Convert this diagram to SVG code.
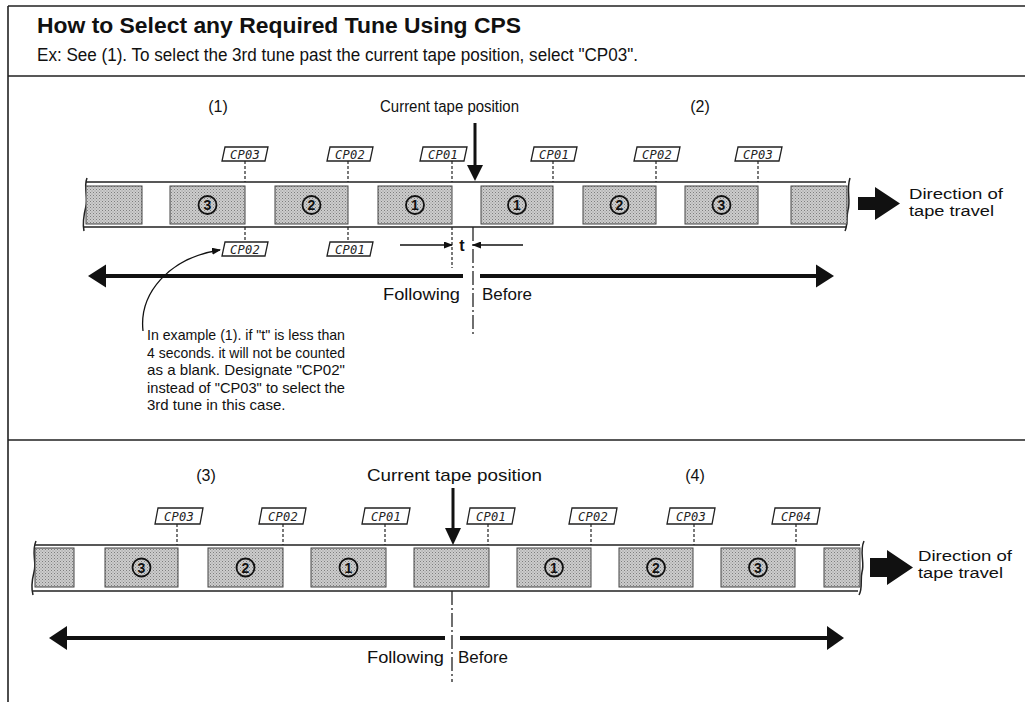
<svg xmlns="http://www.w3.org/2000/svg" width="1025" height="702" viewBox="0 0 1025 702">
<defs>
<style>
.t{font-family:"Liberation Sans",Arial,Helvetica,sans-serif;fill:#111}
.lcd{font-family:"DejaVu Sans Mono","Liberation Mono",monospace;font-style:italic;font-size:12px;fill:#222;letter-spacing:0.3px}
.box{fill:#fff;stroke:#222;stroke-width:1.3}
.dash{stroke:#222;stroke-width:1.2;stroke-dasharray:3 2;fill:none}
.blk{fill:url(#dots);stroke:#444;stroke-width:1}
.tape{fill:none;stroke:#222;stroke-width:1.5}
.circ{fill:url(#dots);stroke:#111;stroke-width:1.8}
.num{font-family:"Liberation Sans",Arial,sans-serif;font-weight:bold;font-size:14px;fill:#111;text-anchor:middle}
.frame{stroke:#222;stroke-width:1.6;fill:none}
.dd{stroke:#222;stroke-width:1.3;stroke-dasharray:14 3 2 3;fill:none}
</style>
<pattern id="dots" width="3" height="3" patternUnits="userSpaceOnUse">
<rect width="3" height="3" fill="#cdcdcd"/>
<rect width="1" height="1" fill="#7e7e7e"/>
<rect x="1.5" y="1.5" width="1" height="1" fill="#949494"/>
</pattern>
<marker id="ah" markerWidth="9" markerHeight="7" refX="8" refY="3.5" orient="auto" markerUnits="userSpaceOnUse">
<path d="M0,0 L9,3.5 L0,7 z" fill="#111"/>
</marker>
</defs>

<g id="frame">
<path class="frame" d="M8 6 H1025 M8 6 V702 M8 76 H1025 M8 440 H1025"/>
</g>

<g id="header">
<text class="t" x="37" y="33" font-size="22" font-weight="bold" textLength="484" lengthAdjust="spacingAndGlyphs">How to Select any Required Tune Using CPS</text>
<text class="t" x="37" y="61" font-size="17.5" textLength="601" lengthAdjust="spacingAndGlyphs">Ex: See (1). To select the 3rd tune past the current tape position, select "CP03".</text>
</g>

<!-- Panel 1 -->
<g id="panel1-labels">
<text class="t" x="218" y="112" font-size="16" text-anchor="middle">(1)</text>
<text class="t" x="380" y="112" font-size="16" textLength="139" lengthAdjust="spacingAndGlyphs">Current tape position</text>
<text class="t" x="700" y="112" font-size="16" text-anchor="middle">(2)</text>
</g>

<g id="tape1">
<path class="tape" d="M86 182 H846 M84 227 H846"/>
<path class="tape" d="M87 178 C83 188 89 198 86 206 C84 214 82 222 84 231"/>
<path class="tape" d="M850 178 C846 190 851 200 848 210 C846 218 848 225 845 231"/>
<rect class="blk" x="86" y="186" width="56" height="38"/>
<rect class="blk" x="170" y="186" width="75" height="38"/>
<rect class="blk" x="275" y="186" width="73" height="38"/>
<rect class="blk" x="378" y="186" width="74" height="38"/>
<rect class="blk" x="481" y="186" width="72" height="38"/>
<rect class="blk" x="583" y="186" width="73" height="38"/>
<rect class="blk" x="685" y="186" width="73" height="38"/>
<rect class="blk" x="791" y="186" width="56" height="38"/>
</g>

<g id="tunes1">
<g><circle class="circ" cx="207.5" cy="205" r="9"/><text class="num" x="207.5" y="210">3</text></g>
<g><circle class="circ" cx="311.5" cy="205" r="9"/><text class="num" x="311.5" y="210">2</text></g>
<g><circle class="circ" cx="415" cy="205" r="9"/><text class="num" x="415" y="210">1</text></g>
<g><circle class="circ" cx="517" cy="205" r="9"/><text class="num" x="517" y="210">1</text></g>
<g><circle class="circ" cx="619.5" cy="205" r="9"/><text class="num" x="619.5" y="210">2</text></g>
<g><circle class="circ" cx="721.5" cy="205" r="9"/><text class="num" x="721.5" y="210">3</text></g>
</g>

<g id="cp1-top">
<g><polygon class="box" points="225,147 268,147 265,161 222,161"/><text class="lcd" x="245" y="158.5" text-anchor="middle">CP03</text></g>
<g><polygon class="box" points="330,147 373,147 370,161 327,161"/><text class="lcd" x="350" y="158.5" text-anchor="middle">CP02</text></g>
<g><polygon class="box" points="423,147 467,147 464,161 420,161"/><text class="lcd" x="443" y="158.5" text-anchor="middle">CP01</text></g>
<g><polygon class="box" points="534,147 577,147 574,161 531,161"/><text class="lcd" x="554" y="158.5" text-anchor="middle">CP01</text></g>
<g><polygon class="box" points="637,147 680,147 677,161 634,161"/><text class="lcd" x="657" y="158.5" text-anchor="middle">CP02</text></g>
<g><polygon class="box" points="738,147 782,147 779,161 735,161"/><text class="lcd" x="758" y="158.5" text-anchor="middle">CP03</text></g>
</g>
<g id="cp1-bottom">
<g><polygon class="box" points="225,242 268,242 265,256 222,256"/><text class="lcd" x="245" y="253.5" text-anchor="middle">CP02</text></g>
<g><polygon class="box" points="330,242 373,242 370,256 327,256"/><text class="lcd" x="350" y="253.5" text-anchor="middle">CP01</text></g>
</g>

<g id="connectors1">
<path class="dash" d="M245 161 V182 M348 161 V182 M452 161 V182 M553 161 V182 M656 161 V182 M758 161 V182"/>
<path class="dash" d="M245 227 V242 M348 227 V242 M452 227 V268"/>
<line x1="475" y1="123" x2="475" y2="167" stroke="#111" stroke-width="3"/>
<polygon points="467,165 483,165 475,181" fill="#111"/>
<line x1="400" y1="245" x2="452" y2="245" stroke="#111" stroke-width="1.5" marker-end="url(#ah)"/>
<line x1="523" y1="245" x2="473" y2="245" stroke="#111" stroke-width="1.5" marker-end="url(#ah)"/>
<path class="dd" d="M473 227 V334"/>
<line x1="103" y1="276" x2="463" y2="276" stroke="#111" stroke-width="4"/>
<polygon points="88,276 106,264.5 106,287.5" fill="#111"/>
<line x1="480" y1="276" x2="819" y2="276" stroke="#111" stroke-width="4"/>
<polygon points="834,276 816,264.5 816,287.5" fill="#111"/>
<path d="M143 331 C139 294 168 258 220 250" fill="none" stroke="#111" stroke-width="1.3" marker-end="url(#ah)"/>
<polygon points="858,197 875,197 875,187 900,203.5 875,220 875,210 858,210" fill="#111"/>
</g>

<g id="panel1-text">
<text class="t" x="462" y="251" font-size="16" font-weight="bold" text-anchor="middle">t</text>
<text class="t" x="460" y="300" font-size="16" text-anchor="end" textLength="77" lengthAdjust="spacingAndGlyphs">Following</text>
<text class="t" x="482" y="300" font-size="16" textLength="50" lengthAdjust="spacingAndGlyphs">Before</text>
<text class="t" x="909" y="199" font-size="15.5" textLength="94" lengthAdjust="spacingAndGlyphs">Direction of</text>
<text class="t" x="909" y="216" font-size="15.5" textLength="85" lengthAdjust="spacingAndGlyphs">tape travel</text>
<g id="callout" font-size="15">
<text class="t" x="147" y="340" textLength="198" lengthAdjust="spacingAndGlyphs">In example (1). if "t" is less than</text>
<text class="t" x="147" y="357.5" textLength="198" lengthAdjust="spacingAndGlyphs">4 seconds. it will not be counted</text>
<text class="t" x="147" y="375" textLength="198" lengthAdjust="spacingAndGlyphs">as a blank. Designate "CP02"</text>
<text class="t" x="147" y="392.5" textLength="198" lengthAdjust="spacingAndGlyphs">instead of "CP03" to select the</text>
<text class="t" x="147" y="410">3rd tune in this case.</text>
</g>
</g>

<!-- Panel 2 -->
<g id="panel2-labels">
<text class="t" x="206" y="481" font-size="16" text-anchor="middle">(3)</text>
<text class="t" x="367" y="481" font-size="17" textLength="175" lengthAdjust="spacingAndGlyphs">Current tape position</text>
<text class="t" x="695" y="481" font-size="16" text-anchor="middle">(4)</text>
</g>

<g id="tape2">
<path class="tape" d="M35 545 H860 M33 591 H858"/>
<path class="tape" d="M36 541 C31 552 37 562 34 572 C32 580 31 588 33 595"/>
<path class="tape" d="M864 541 C859 552 865 562 862 572 C860 580 863 588 859 595"/>
<rect class="blk" x="35" y="548" width="39" height="39"/>
<rect class="blk" x="105" y="548" width="73" height="39"/>
<rect class="blk" x="208" y="548" width="75" height="39"/>
<rect class="blk" x="311" y="548" width="75" height="39"/>
<rect class="blk" x="414" y="548" width="75" height="39"/>
<rect class="blk" x="517" y="548" width="74" height="39"/>
<rect class="blk" x="619" y="548" width="74" height="39"/>
<rect class="blk" x="721" y="548" width="74" height="39"/>
<rect class="blk" x="824" y="548" width="36" height="39"/>
</g>

<g id="tunes2">
<g><circle class="circ" cx="141.5" cy="567.5" r="9"/><text class="num" x="141.5" y="572.5">3</text></g>
<g><circle class="circ" cx="245.5" cy="567.5" r="9"/><text class="num" x="245.5" y="572.5">2</text></g>
<g><circle class="circ" cx="348.5" cy="567.5" r="9"/><text class="num" x="348.5" y="572.5">1</text></g>
<g><circle class="circ" cx="554" cy="567.5" r="9"/><text class="num" x="554" y="572.5">1</text></g>
<g><circle class="circ" cx="656" cy="567.5" r="9"/><text class="num" x="656" y="572.5">2</text></g>
<g><circle class="circ" cx="758" cy="567.5" r="9"/><text class="num" x="758" y="572.5">3</text></g>
</g>

<g id="cp2">
<g><polygon class="box" points="158,508 203,508 200,524 155,524"/><text class="lcd" x="179" y="520.5" text-anchor="middle">CP03</text></g>
<g><polygon class="box" points="262,508 306,508 303,524 259,524"/><text class="lcd" x="283" y="520.5" text-anchor="middle">CP02</text></g>
<g><polygon class="box" points="365,508 410,508 407,524 362,524"/><text class="lcd" x="386" y="520.5" text-anchor="middle">CP01</text></g>
<g><polygon class="box" points="470,508 515,508 512,524 467,524"/><text class="lcd" x="491" y="520.5" text-anchor="middle">CP01</text></g>
<g><polygon class="box" points="572,508 617,508 614,524 569,524"/><text class="lcd" x="593" y="520.5" text-anchor="middle">CP02</text></g>
<g><polygon class="box" points="670,508 715,508 712,524 667,524"/><text class="lcd" x="691" y="520.5" text-anchor="middle">CP03</text></g>
<g><polygon class="box" points="775,508 820,508 817,524 772,524"/><text class="lcd" x="796" y="520.5" text-anchor="middle">CP04</text></g>
</g>

<g id="connectors2">
<path class="dash" d="M177 524 V545 M283 524 V545 M385 524 V545 M488 524 V545 M591 524 V545 M694 524 V545 M796 524 V545"/>
<line x1="453" y1="488" x2="453" y2="530" stroke="#111" stroke-width="3"/>
<polygon points="445,528 461,528 453,545" fill="#111"/>
<path class="dd" d="M452 591 V682"/>
<line x1="65" y1="638" x2="445" y2="638" stroke="#111" stroke-width="4"/>
<polygon points="49,638 67,626 67,650" fill="#111"/>
<line x1="460" y1="638" x2="830" y2="638" stroke="#111" stroke-width="4"/>
<polygon points="844,638 827,626 827,650" fill="#111"/>
<polygon points="870,558 887,558 887,550 913,567.5 887,585 887,577 870,577" fill="#111"/>
</g>

<g id="panel2-text">
<text class="t" x="444" y="663" font-size="16" text-anchor="end" textLength="77" lengthAdjust="spacingAndGlyphs">Following</text>
<text class="t" x="458" y="663" font-size="16" textLength="50" lengthAdjust="spacingAndGlyphs">Before</text>
<text class="t" x="918" y="561" font-size="15.5" textLength="94" lengthAdjust="spacingAndGlyphs">Direction of</text>
<text class="t" x="918" y="578" font-size="15.5" textLength="85" lengthAdjust="spacingAndGlyphs">tape travel</text>
</g>
</svg>
